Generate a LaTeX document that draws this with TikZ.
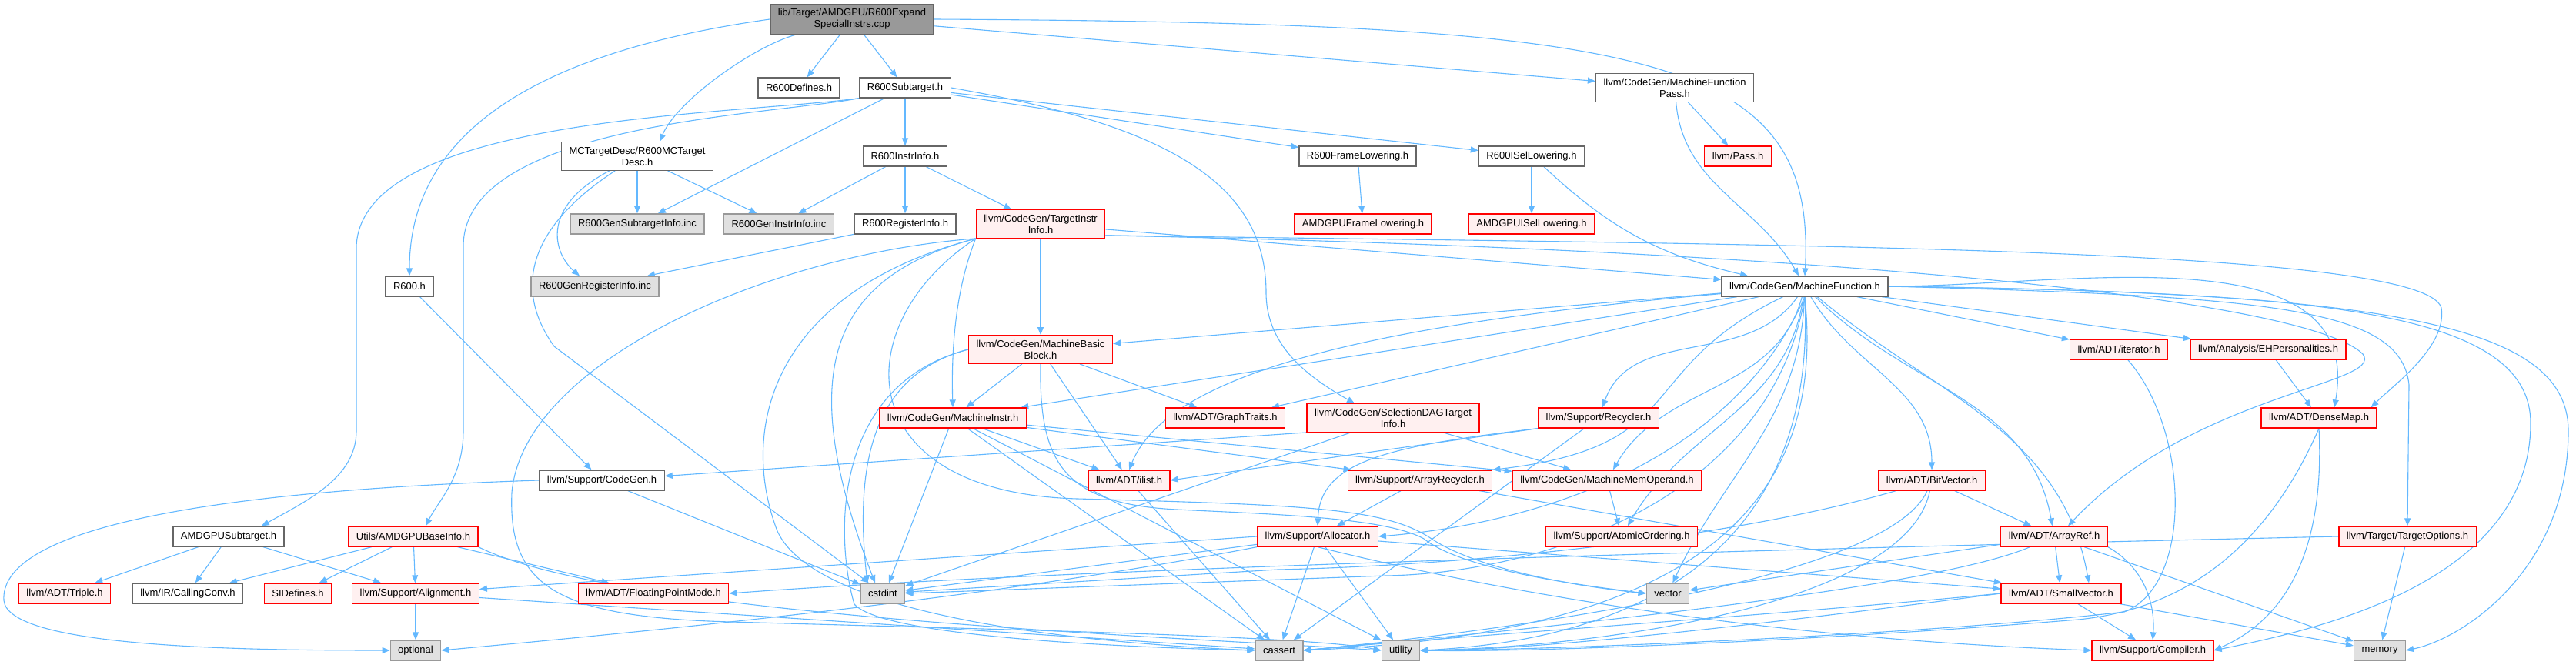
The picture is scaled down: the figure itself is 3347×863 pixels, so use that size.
\documentclass[tikz,border=0pt]{standalone}
\usepackage{fontspec}
\setmainfont{Liberation Sans}
\usetikzlibrary{arrows.meta,backgrounds}

\definecolor{edgeblue}{HTML}{63B8FF}
\definecolor{boxgray}{HTML}{666666}
\definecolor{incgray}{HTML}{999999}
\definecolor{incfill}{HTML}{E0E0E0}
\definecolor{redfill}{HTML}{FFF0F0}

\tikzset{
  hdr/.style={draw=boxgray, fill=white, line width=1.3pt, inner xsep=10pt, inner ysep=6pt,
    minimum height=26pt, align=center, font=\fontsize{13}{15}\selectfont},
  mainhdr/.style={hdr, fill=incgray},
  syshdr/.style={hdr, draw=incgray, fill=incfill},
  redhdr/.style={hdr, draw=red, fill=redfill},
  dep/.style={->, draw=edgeblue, line width=1.1pt},
}

\begin{document}
\begin{tikzpicture}[x=1pt,y=1pt,>={Triangle[length=10pt,width=8pt]}]
\useasboundingbox (0,0) rectangle (3347,-863);

\node[mainhdr] (root) at (1107,-25) {lib/Target/AMDGPU/R600Expand\\SpecialInstrs.cpp};
\node[hdr] (rsixh) at (532,-372) {R600.h};
\node[hdr] (mctd) at (828,-203) {MCTargetDesc/R600MCTarget\\Desc.h};
\node[syshdr] (gensub) at (828,-291) {R600GenSubtargetInfo.inc};
\node[syshdr] (genreg) at (773,-372) {R600GenRegisterInfo.inc};
\node[hdr] (rdef) at (1038,-114) {R600Defines.h};
\node[hdr] (rsub) at (1176,-114) {R600Subtarget.h};
\node[hdr] (instrinfo) at (1176,-203) {R600InstrInfo.h};
\node[syshdr] (geninstr) at (1012,-291) {R600GenInstrInfo.inc};
\node[hdr] (reginfo) at (1176,-291) {R600RegisterInfo.h};
\node[redhdr] (tii) at (1352,-291) {llvm/CodeGen/TargetInstr\\Info.h};
\node[redhdr] (mbb) at (1352,-454) {llvm/CodeGen/MachineBasic\\Block.h};
\node[redhdr] (mi) at (1238,-543) {llvm/CodeGen/MachineInstr.h};
\node[redhdr] (graph) at (1592,-543) {llvm/ADT/GraphTraits.h};
\node[redhdr] (ilist) at (1467,-624) {llvm/ADT/ilist.h};
\node[hdr] (codegen) at (782,-624) {llvm/Support/CodeGen.h};
\node[hdr] (amdsub) at (297,-697) {AMDGPUSubtarget.h};
\node[redhdr] (baseinfo) at (537,-697) {Utils/AMDGPUBaseInfo.h};
\node[redhdr] (triple) at (84,-771) {llvm/ADT/Triple.h};
\node[hdr] (callconv) at (244,-771) {llvm/IR/CallingConv.h};
\node[redhdr] (sidef) at (387,-771) {SIDefines.h};
\node[redhdr] (align) at (540,-771) {llvm/Support/Alignment.h};
\node[redhdr] (fpmode) at (849,-771) {llvm/ADT/FloatingPointMode.h};
\node[syshdr] (optional) at (540,-845) {optional};
\node[syshdr] (cstdint) at (1147,-771) {cstdint};
\node[syshdr] (cassert) at (1662,-845) {cassert};
\node[syshdr] (utility) at (1820,-845) {utility};
\node[redhdr] (alloc) at (1712,-697) {llvm/Support/Allocator.h};
\node[hdr] (mfpass) at (2176,-114) {llvm/CodeGen/MachineFunction\\Pass.h};
\node[hdr] (framelow) at (1764,-203) {R600FrameLowering.h};
\node[hdr] (isellow) at (1990,-203) {R600ISelLowering.h};
\node[redhdr] (pass) at (2258,-203) {llvm/Pass.h};
\node[redhdr] (amdframe) at (1771,-291) {AMDGPUFrameLowering.h};
\node[redhdr] (amdisel) at (1990,-291) {AMDGPUISelLowering.h};
\node[hdr] (mf) at (2345,-372) {llvm/CodeGen/MachineFunction.h};
\node[redhdr] (sdti) at (1810,-543) {llvm/CodeGen/SelectionDAGTarget\\Info.h};
\node[redhdr] (recycler) at (2077,-543) {llvm/Support/Recycler.h};
\node[redhdr] (arecycler) at (1845,-624) {llvm/Support/ArrayRecycler.h};
\node[redhdr] (mmo) at (2088,-624) {llvm/CodeGen/MachineMemOperand.h};
\node[redhdr] (atomic) at (2107,-697) {llvm/Support/AtomicOrdering.h};
\node[syshdr] (vector) at (2167,-771) {vector};
\node[redhdr] (bitvec) at (2510,-624) {llvm/ADT/BitVector.h};
\node[redhdr] (iter) at (2753,-454) {llvm/ADT/iterator.h};
\node[redhdr] (ehpers) at (2947,-454) {llvm/Analysis/EHPersonalities.h};
\node[redhdr] (densemap) at (3013,-543) {llvm/ADT/DenseMap.h};
\node[redhdr] (arrayref) at (2669,-697) {llvm/ADT/ArrayRef.h};
\node[redhdr] (topts) at (3128,-697) {llvm/Target/TargetOptions.h};
\node[redhdr] (smallvec) at (2678,-771) {llvm/ADT/SmallVector.h};
\node[redhdr] (compiler) at (2797,-845) {llvm/Support/Compiler.h};
\node[syshdr] (memory) at (3092,-845) {memory};

\begin{pgfonlayer}{background}
\draw[dep] (root.west) to[out=188,in=90] (rsixh.north);
\draw[dep] (root) .. controls (980,-60) and (880,-130) .. ([xshift=29pt]mctd.north);
\draw[dep] (root) -- (rdef);
\draw[dep] (root) -- (rsub);
\draw[dep] (root) -- (mfpass);
\draw[dep] (root.east) .. controls (2150,-30) and (2360,-70) .. (mf.north);

\draw[dep] (rsub.south west) .. controls (950,-150) and (470,-150) .. (463,-320) -- (463,-560)
  .. controls (463,-620) and (400,-650) .. ([xshift=-30pt]amdsub.north east);
\draw[dep] (rsub.south west) .. controls (1000,-150) and (602,-160) .. (602,-320) -- (602,-560)
  .. controls (602,-620) and (570,-650) .. ([xshift=16pt]baseinfo.north);
\draw[dep] (rsub) -- (gensub);
\draw[dep] (rsub) -- (instrinfo);
\draw[dep] (rsub) -- (framelow);
\draw[dep] (rsub) -- (isellow);
\draw[dep] (rsub.east) .. controls (1500,-160) and (1645,-230) .. (1645,-380)
  .. controls (1645,-450) and (1700,-490) .. ([xshift=-50pt]sdti.north);

\draw[dep] (mctd) -- (gensub);
\draw[dep] (mctd) -- (geninstr);
\draw[dep] (mctd) .. controls (700,-270) and (720,-330) .. ([xshift=-20pt]genreg.north);
\draw[dep] (mctd) .. controls (680,-300) and (670,-380) .. (720,-450) -- (cstdint);
\draw[dep] (rsixh) -- (codegen);

\draw[dep] (instrinfo) -- (geninstr);
\draw[dep] (instrinfo) -- (reginfo);
\draw[dep] (instrinfo) -- (tii);
\draw[dep] (reginfo) -- (genreg);
\draw[dep] (framelow) -- (amdframe);
\draw[dep] (isellow) -- (amdisel);
\draw[dep] (isellow) to[bend right=15] (mf);
\draw[dep] (mfpass) -- (pass);
\draw[dep] (mfpass) to[out=-85,in=120] (mf);

\draw[dep] (tii) -- (mbb);
\draw[dep] (tii.south west) .. controls (1240,-380) and (1236,-460) .. (mi.north);
\draw[dep] (tii) -- (mf);
\draw[dep] (tii.350) .. controls (2300,-318) and (3150,-320) .. (3172,-400)
  .. controls (3180,-450) and (3110,-500) .. ([xshift=-8pt]densemap.north east);
\draw[dep] (tii.350) .. controls (2400,-325) and (3000,-390) .. (3070,-460)
  .. controls (3100,-500) and (2850,-510) .. ([xshift=18pt]arrayref.north);
\draw[dep] (tii.south west) .. controls (1080,-360) and (1030,-480) .. ([xshift=-10pt]cstdint.north);
\draw[dep] (tii.south west) .. controls (1000,-380) and (960,-560) .. (1010,-690)
  .. controls (1060,-800) and (1400,-835) .. (cassert.west);
\draw[dep] (tii.south west) .. controls (1000,-330) and (680,-470) .. (665,-640)
  .. controls (660,-760) and (720,-802) .. (950,-808)
  .. controls (1300,-818) and (1700,-826) .. (utility.west);
\draw[dep] (tii.south west) .. controls (1100,-420) and (1100,-640) .. (1400,-648)
  .. controls (1700,-656) and (1800,-660) .. (1860,-700)
  .. controls (1920,-740) and (2050,-762) .. (vector.west);

\draw[dep] (mbb) -- (mi);
\draw[dep] (mbb) -- (ilist);
\draw[dep] (mbb) -- (graph);
\draw[dep] (mbb.west) .. controls (1160,-480) and (1105,-560) .. ([xshift=-20pt]cstdint.north);
\draw[dep] (mbb.west) .. controls (1080,-500) and (1085,-700) .. (1110,-785)
  .. controls (1150,-830) and (1500,-842) .. (cassert.west);
\draw[dep] (mbb.south) .. controls (1350,-600) and (1380,-655) .. (1530,-662)
  .. controls (1650,-668) and (1800,-672) .. (1850,-700)
  .. controls (1900,-740) and (2050,-760) .. (vector.west);

\draw[dep] (mi) -- (ilist);
\draw[dep] (mi) -- ([xshift=5pt]arecycler.north west);
\draw[dep] (mi) -- (mmo);
\draw[dep] (mi) -- ([xshift=8pt]cstdint.north);
\draw[dep] (mi) -- (cassert);
\draw[dep] (mi) -- (utility);

\draw[dep] (sdti.south west) -- (codegen);
\draw[dep] (sdti) -- (mmo);
\draw[dep] (sdti) -- (cstdint);
\draw[dep] (recycler.south west) -- (ilist.east);
\draw[dep] (recycler.south west) .. controls (1800,-580) and (1715,-600) .. (alloc.north);
\draw[dep] (recycler) -- (cassert);
\draw[dep] (arecycler) -- (alloc);
\draw[dep] (arecycler) -- (smallvec);

\draw[dep] (alloc) -- (cstdint);
\draw[dep] (alloc) -- (cassert);
\draw[dep] (alloc) -- (utility);
\draw[dep] (alloc.south) .. controls (1950,-770) and (2300,-830) .. (compiler.west);
\draw[dep] (alloc.west) -- (align);
\draw[dep] (alloc) -- (smallvec);
\draw[dep] (alloc.south west) .. controls (1300,-775) and (900,-815) .. (optional.east);

\draw[dep] (bitvec) -- (arrayref);
\draw[dep] (bitvec) .. controls (2250,-700) and (1900,-735) .. (1660,-740) -- (cstdint);
\draw[dep] (bitvec) .. controls (2450,-760) and (1900,-825) .. (cassert.east);
\draw[dep] (bitvec) .. controls (2480,-780) and (2100,-840) .. (utility.east);
\draw[dep] (iter) .. controls (2845,-560) and (2850,-760) .. (2760,-795)
  .. controls (2500,-825) and (2000,-845) .. (utility.east);
\draw[dep] (ehpers) -- (densemap);
\draw[dep] (densemap.south) .. controls (3020,-700) and (2980,-800) .. (compiler.east);
\draw[dep] (densemap.south) .. controls (2950,-700) and (2850,-790) .. (2700,-805)
  .. controls (2400,-830) and (2000,-848) .. (utility.east);

\draw[dep] (arrayref) -- (smallvec);
\draw[dep] (arrayref.south east) .. controls (2790,-740) and (2800,-790) .. (compiler.north);
\draw[dep] (arrayref) -- (memory);
\draw[dep] (arrayref) -- (vector);
\draw[dep] (arrayref) .. controls (2500,-770) and (1900,-826) .. (cassert.east);
\draw[dep] (topts.west) .. controls (2000,-720) and (1300,-745) .. (fpmode.east);
\draw[dep] (topts) -- (memory);
\draw[dep] (smallvec) -- (compiler);
\draw[dep] (smallvec) -- (memory);
\draw[dep] (smallvec.west) .. controls (2300,-800) and (1900,-826) .. (cassert.east);
\draw[dep] (smallvec.west) .. controls (2300,-810) and (2000,-845) .. (utility.east);
\draw[dep] (mmo) -- (atomic);

\draw[dep] (amdsub) -- (triple);
\draw[dep] (amdsub) -- (callconv);
\draw[dep] (amdsub) -- (align);
\draw[dep] (baseinfo) -- (callconv);
\draw[dep] (baseinfo) -- (sidef);
\draw[dep] (baseinfo) -- (align);
\draw[dep] (baseinfo) -- (fpmode);
\draw[dep] (baseinfo.south east) .. controls (800,-800) and (1500,-826) .. (utility.west);
\draw[dep] (align) -- (optional);
\draw[dep] (align) -- (cassert);
\draw[dep] (codegen.west) .. controls (200,-640) and (0,-700) .. (5,-780)
  .. controls (10,-840) and (300,-845) .. (optional.west);
\draw[dep] (codegen) -- (cstdint);
\draw[dep] (ilist) -- (cassert);

\draw[dep] (mf) -- (mbb);
\draw[dep] (mf) -- (mi);
\draw[dep] (mf) -- (graph);
\draw[dep] (mf) .. controls (1800,-420) and (1520,-480) .. (ilist.north);
\draw[dep] (mf) to[out=235,in=70] (recycler);
\draw[dep] (mf) .. controls (2120,-480) and (2200,-580) .. (arecycler.north east);
\draw[dep] (mf.south) .. controls (2250,-600) and (2000,-680) .. (alloc.east);
\draw[dep] (mf) to[out=255,in=60] (mmo);
\draw[dep] (mf) to[out=262,in=60] (atomic);
\draw[dep] (mf) to[out=268,in=65] (vector);
\draw[dep] (mf.south) .. controls (2360,-700) and (2150,-830) .. (utility.east);
\draw[dep] (mf.south) .. controls (2380,-720) and (2100,-826) .. (cassert.east);
\draw[dep] (mf.south) .. controls (2300,-650) and (2000,-745) .. (1800,-748) -- (cstdint.east);
\draw[dep] (mf) to[out=-60,in=90] (bitvec);
\draw[dep] (mf) to[out=-45,in=100] (arrayref);
\draw[dep] (mf) to[out=-40,in=100] ([xshift=36pt]smallvec.north);
\draw[dep] (mf) -- (iter);
\draw[dep] (mf) -- (ehpers);
\draw[dep] (mf.east) to[out=0,in=80] ([xshift=20pt]densemap.north);
\draw[dep] (mf.east) .. controls (2950,-385) and (3120,-400) .. (3130,-500) -- (topts.north);
\draw[dep] (mf.east) .. controls (3000,-380) and (3288,-400) .. (3288,-550)
  .. controls (3288,-760) and (3000,-820) .. (compiler.east);
\draw[dep] (mf.east) .. controls (3100,-380) and (3337,-420) .. (3337,-560)
  .. controls (3337,-740) and (3200,-830) .. (memory.east);
\end{pgfonlayer}
\end{tikzpicture}
\end{document}
